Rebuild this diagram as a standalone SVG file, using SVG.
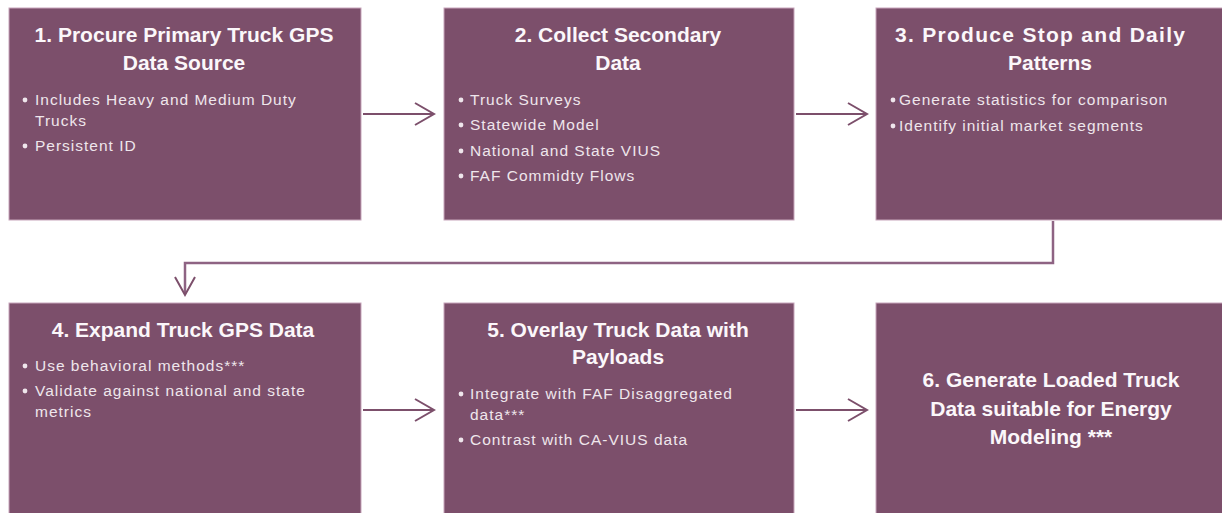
<svg xmlns="http://www.w3.org/2000/svg" width="1222" height="513" viewBox="0 0 1222 513">
<style>
.box{fill:#7c4f6b;stroke:#c7a6bb;stroke-width:1}
.t{font-family:"Liberation Sans",Arial,sans-serif;font-weight:bold;font-size:21px;fill:#fbf7fa;text-anchor:middle}
.b{font-family:"Liberation Sans",Arial,sans-serif;font-size:15.5px;fill:#efe6ec;letter-spacing:1px}
.dot{fill:#efe6ec}
.c{fill:none;stroke:#7c4f6b;stroke-width:2}
.c2{fill:none;stroke:#8e6383;stroke-width:2.5}
</style>
<rect width="1222" height="513" fill="#ffffff"/>
<g id="connectors">
<path class="c" d="M363 114H433M415 103L434 114L415 125"/>
<path class="c" d="M796 114H866M848 103L867 114L848 125"/>
<path class="c2" d="M1053 221V263H185V293"/>
<path class="c" d="M175 277L185 295L195 277"/>
<path class="c" d="M363 410H433M415 399L434 410L415 421"/>
<path class="c" d="M796 410H866M848 399L867 410L848 421"/>
</g>
<g id="node1">
<rect class="box" x="9" y="8" width="352" height="212"/>
<text class="t" x="184" y="42">1. Procure Primary Truck GPS</text>
<text class="t" x="184" y="70">Data Source</text>
<circle class="dot" cx="25" cy="100" r="2.4"/>
<text class="b" x="35" y="105">Includes Heavy and Medium Duty</text>
<text class="b" x="35" y="126">Trucks</text>
<circle class="dot" cx="25" cy="146" r="2.4"/>
<text class="b" x="35" y="151">Persistent ID</text>
</g>
<g id="node2">
<rect class="box" x="444" y="8" width="350" height="212"/>
<text class="t" x="618" y="42">2. Collect Secondary</text>
<text class="t" x="618" y="70">Data</text>
<circle class="dot" cx="461" cy="100" r="2.4"/>
<text class="b" x="470" y="105">Truck Surveys</text>
<circle class="dot" cx="461" cy="125" r="2.4"/>
<text class="b" x="470" y="130">Statewide Model</text>
<circle class="dot" cx="461" cy="151" r="2.4"/>
<text class="b" x="470" y="156">National and State VIUS</text>
<circle class="dot" cx="461" cy="176" r="2.4"/>
<text class="b" x="470" y="181">FAF Commidty Flows</text>
</g>
<g id="node3">
<rect class="box" x="876" y="8" width="352" height="212"/>
<text class="t" x="1040" y="42" textLength="290" lengthAdjust="spacing">3. Produce Stop and Daily</text>
<text class="t" x="1050" y="70">Patterns</text>
<circle class="dot" cx="893" cy="100" r="2.4"/>
<text class="b" x="899" y="105">Generate statistics for comparison</text>
<circle class="dot" cx="893" cy="126" r="2.4"/>
<text class="b" x="899" y="131">Identify initial market segments</text>
</g>
<g id="node4">
<rect class="box" x="9" y="303" width="352" height="215"/>
<text class="t" x="183" y="337">4. Expand Truck GPS Data</text>
<circle class="dot" cx="25" cy="366" r="2.4"/>
<text class="b" x="35" y="371">Use behavioral methods***</text>
<circle class="dot" cx="25" cy="391" r="2.4"/>
<text class="b" x="35" y="396">Validate against national and state</text>
<text class="b" x="35" y="417">metrics</text>
</g>
<g id="node5">
<rect class="box" x="444" y="303" width="350" height="215"/>
<text class="t" x="618" y="337">5. Overlay Truck Data with</text>
<text class="t" x="618" y="364">Payloads</text>
<circle class="dot" cx="461" cy="394" r="2.4"/>
<text class="b" x="470" y="399">Integrate with FAF Disaggregated</text>
<text class="b" x="470" y="420">data***</text>
<circle class="dot" cx="461" cy="440" r="2.4"/>
<text class="b" x="470" y="445">Contrast with CA-VIUS data</text>
</g>
<g id="node6">
<rect class="box" x="876" y="303" width="352" height="215"/>
<text class="t" x="1051" y="387">6. Generate Loaded Truck</text>
<text class="t" x="1051" y="416">Data suitable for Energy</text>
<text class="t" x="1051" y="444">Modeling ***</text>
</g>
</svg>
